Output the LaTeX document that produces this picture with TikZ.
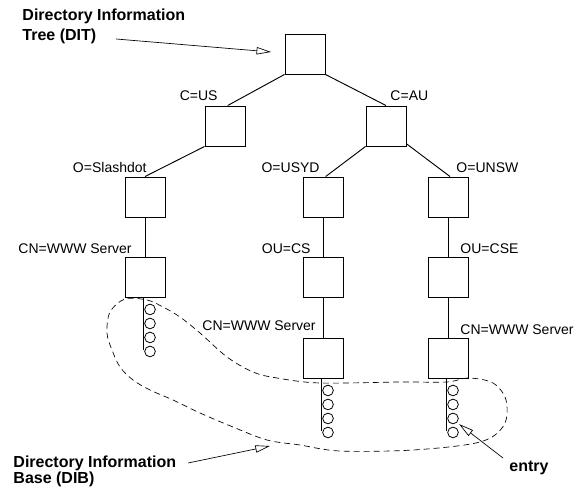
\documentclass[tikz,border=0pt]{standalone}
\usepackage{fontspec}
\setmainfont{Liberation Sans}
\usetikzlibrary{arrows.meta}

\begin{document}
\begin{tikzpicture}[x=0.75pt,y=-0.75pt,line width=0.7pt,
        obj/.style={draw,minimum size=30pt,inner sep=0pt},
        attr/.style={inner sep=0pt,font=\fontsize{10.5}{12}\selectfont},
        note/.style={inner sep=0pt,align=left,font=\fontsize{12}{15}\selectfont\bfseries},
        rec/.style={draw,circle,minimum size=8pt,inner sep=0pt,line width=0.6pt},
        pointer/.style={-{Triangle[open,length=11pt,width=5.5pt]},line width=0.5pt}]
    \useasboundingbox (0,0) rectangle (580,491);

    \node[obj] (root) at (305,54) {};
    \node[obj] (us) at (225,126) {};
    \node[obj] (au) at (386,126) {};
    \node[obj] (slash) at (145,197) {};
    \node[obj] (usyd) at (323,197) {};
    \node[obj] (unsw) at (448,197) {};
    \node[obj] (wwwL) at (145,277) {};
    \node[obj] (cs) at (323,277) {};
    \node[obj] (cse) at (448,277) {};
    \node[obj] (wwwM) at (323,358) {};
    \node[obj] (wwwR) at (448,358) {};

    \node[attr,anchor=base east] (lUS) at (218,101) {C=US};
    \node[attr,anchor=base west] (lAU) at (390,101) {C=AU};
    \node[attr,anchor=base east] (lSlash) at (147,173) {O=Slashdot};
    \node[attr,anchor=base east] (lUSYD) at (320,173) {O=USYD};
    \node[attr,anchor=base west] (lUNSW) at (456,173) {O=UNSW};
    \node[attr,anchor=base west] (lWwwL) at (18,253) {CN=WWW Server};
    \node[attr,anchor=base east] (lCS) at (311,253) {OU=CS};
    \node[attr,anchor=base west] (lCSE) at (460,253) {OU=CSE};
    \node[attr,anchor=base west] (lWwwM) at (202,330) {CN=WWW Server};
    \node[attr,anchor=base west] (lWwwR) at (460,334) {CN=WWW Server};

    \node[note,anchor=north west] (dit) at (22,8) {Directory Information\\Tree (DIT)};
    \node[note,anchor=north west,font=\fontsize{12}{12}\selectfont\bfseries] (dib) at (13,455) {Directory Information\\Base (DIB)};
    \node[note,anchor=base west] (entry) at (509,471) {entry};

    \draw (root.south west) to ([xshift=2]us.north); \draw (root.south east) to (au.north);
    \draw (us.south west) to (slash.north); \draw (au.south west) to ([xshift=2]usyd.north); \draw ([yshift=2]au.south east) to ([xshift=1.5]unsw.north);
    \draw (slash) to (wwwL); \draw (usyd) to (cs); \draw (cs) to (wwwM); \draw (unsw) to (cse); \draw (cse) to (wwwR);

    % entries hanging under the leaves
    \foreach \b/\t in {wwwL/l, wwwM/m, wwwR/r} {
        \coordinate (\t0) at ([xshift=-1.5]\b.south);
        \draw (\t0) -- ++(0,53);
        \foreach \i in {1,...,4}
            \node[rec] (\t\i) at ([shift={(7,-2+14*\i)}]\t0) {};
    }

    % the DIB
    \draw[dash pattern=on 4.5pt off 3pt,line width=0.5pt] plot[smooth cycle,tension=0.55] coordinates {
        (125,299) (147,300) (163,307) (180,317) (200,333) (227,357) (253,372) (277,378)
        (320,383) (400,382) (447,382) (468,378) (493,383) (506,400) (504,425) (480,442)
        (413,450) (340,451) (300,445) (267,440) (233,427) (200,413) (173,400) (150,390)
        (133,380) (120,367) (112,350) (107,333) (110,312)};

    \coordinate (ditfrom) at (116,39);
    \coordinate (dibfrom) at (188,463);
    \coordinate (dibto) at (270,446);
    \coordinate (entryfrom) at (503,458);
    \draw[pointer] (ditfrom) -- ([xshift=-10pt,yshift=1.5pt]root.west);
    \draw[pointer] (dibfrom) -- (dibto);
    \draw[pointer,shorten >=2pt] (entryfrom) -- (r3.south east);
\end{tikzpicture}
\end{document}
